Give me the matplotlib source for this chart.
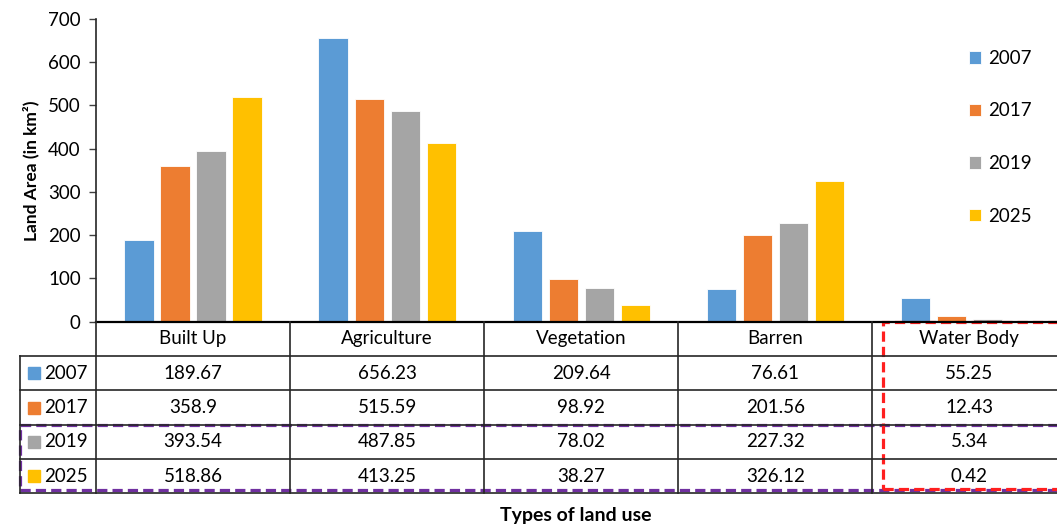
import matplotlib.pyplot as plt
from matplotlib.patches import Rectangle
import numpy as np

plt.rcParams['font.family'] = ['Lato', 'DejaVu Sans']

categories = ['Built Up', 'Agriculture', 'Vegetation', 'Barren', 'Water Body']
years = ['2007', '2017', '2019', '2025']
area_2007 = [189.67, 656.23, 209.64, 76.61, 55.25]
area_2017 = [358.9, 515.59, 98.92, 201.56, 12.43]
area_2019 = [393.54, 487.85, 78.02, 227.32, 5.34]
area_2025 = [518.86, 413.25, 38.27, 326.12, 0.42]
colors = ['#5B9BD5', '#ED7D31', '#A5A5A5', '#FFC000']

series = [area_2007, area_2017, area_2019, area_2025]
# table cells show the values as typed in the sheet
labels = [[f'{v:g}' for v in s] for s in series]

fig = plt.figure(figsize=(10.57, 5.25), dpi=100)
ax = fig.add_axes([0.0908, 0.3873, 0.918, 0.5766])

x = np.arange(len(categories))
pitch = 0.1856
for i, (vals, c, yr) in enumerate(zip(series, colors, years)):
    ax.bar(x + (i - 1.5) * pitch, vals, width=0.15, color=c,
           edgecolor='white', linewidth=0.6, label=yr)

ax.set_xlim(-0.5, len(categories) - 0.5)
ax.set_ylim(0, 700)
ax.set_yticks(np.arange(0, 701, 100))
ax.tick_params(axis='y', length=5, width=1, labelsize=13.5, pad=6,
               color='#404040')
ax.set_xticks([])
for s in ['top', 'right', 'bottom']:
    ax.spines[s].set_visible(False)
ax.spines['left'].set_color('#262626')
ax.spines['left'].set_linewidth(1.2)
ax.set_ylabel('Land Area (in km²)', fontsize=12.5, fontweight='bold',
              labelpad=6)

ax.legend(frameon=False, loc='upper left', fontsize=13.5,
          bbox_to_anchor=(0.917, 0.905), bbox_transform=fig.transFigure,
          handlelength=0.65, handleheight=0.65, handletextpad=0.35,
          labelspacing=1.9, borderpad=0, borderaxespad=0)

# data table under the bars
trans = ax.get_xaxis_transform()
row_h = 0.1135
key_left = -0.892
right = len(categories) + 0.2
line_kw = dict(color='#262626', lw=1.2, transform=trans, clip_on=False)

ax.plot([-0.5, right], [0, 0], color='black', lw=1.6, transform=trans,
        clip_on=False)
for k in range(1, 6):
    ax.plot([key_left, right], [-k * row_h] * 2, **line_kw)
ax.plot([key_left, key_left], [-row_h, -5 * row_h], **line_kw)
ax.plot([-0.5, -0.5], [0, -5 * row_h], **line_kw)
for j in range(len(categories)):
    ax.plot([j + 0.5, j + 0.5], [0, -5 * row_h], **line_kw)

for j, name in enumerate(categories):
    ax.text(j, -0.5 * row_h, name, transform=trans, ha='center',
            va='center', fontsize=13.5)
for i, (yr, c) in enumerate(zip(years, colors)):
    yc = -(i + 1.5) * row_h
    ax.plot([-0.8196], [yc], marker='s', ms=8.5, color=c, transform=trans,
            clip_on=False)
    ax.text(-0.765, yc, yr, transform=trans, ha='left', va='center',
            fontsize=13.5)
    for j in range(len(categories)):
        ax.text(j, yc, labels[i][j], transform=trans, ha='center',
                va='center', fontsize=13.5)

# highlight boxes
ax.add_patch(Rectangle((key_left, -5 * row_h + 0.012), right - key_left,
                       2 * row_h - 0.012, fill=False, ec='#7030A0', lw=2.3,
                       ls=(0, (3.2, 1.6)), transform=trans, clip_on=False))
ax.add_patch(Rectangle((3.555, -5 * row_h + 0.015), right - 3.555,
                       5 * row_h - 0.015, fill=False, ec='#FF1F1F', lw=2.3,
                       ls=(0, (3.2, 1.6)), transform=trans, clip_on=False))

fig.text(0.545, 0.019, 'Types of land use', ha='center', va='center',
         fontsize=14, fontweight='bold')

fig.savefig('out.png', dpi=100)
